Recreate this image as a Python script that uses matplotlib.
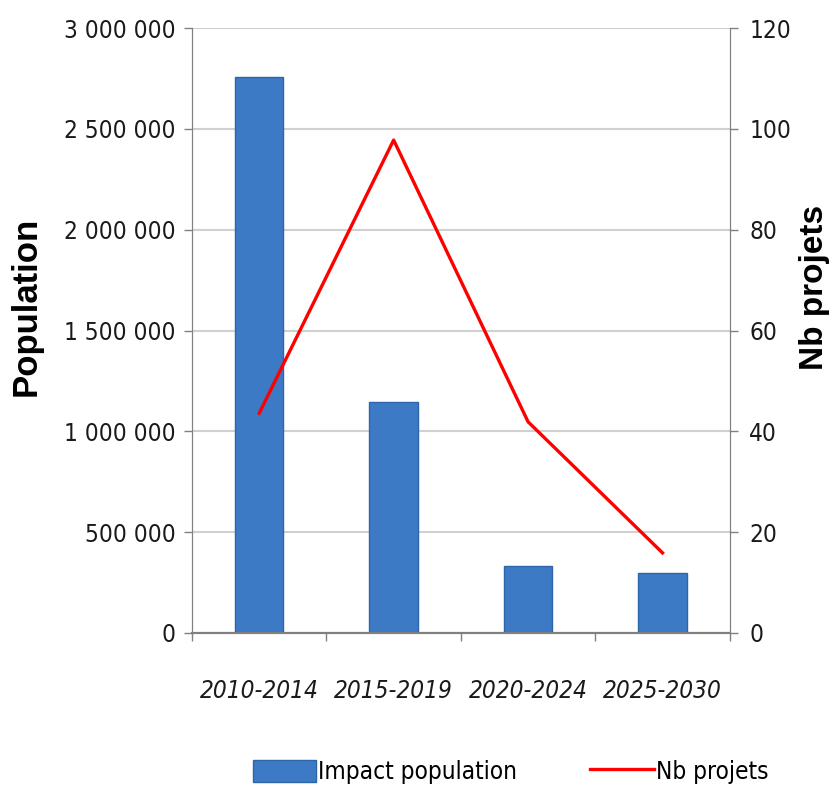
import matplotlib
matplotlib.use("Agg")
import matplotlib.pyplot as plt
from matplotlib import font_manager as fm
from matplotlib.ticker import FuncFormatter, MultipleLocator

categories = ["2010-2014", "2015-2019", "2020-2024", "2025-2030"]
population = [2757000, 1145000, 333000, 298000]
nb_projets = [43.6, 97.8, 41.9, 15.9]

# look for a condensed sans font
cond_reg, cond_it = None, None
for f in fm.fontManager.ttflist:
    n = f.name.lower()
    st = str(f.stretch).lower()
    is_cond = ("narrow" in n or "condensed" in n or st in ("condensed", "semi-condensed", "500", "600")
               or "condensed" in f.fname.lower() or "narrow" in f.fname.lower())
    if not is_cond or f.weight not in (400, "normal", "regular"):
        continue
    if f.style == "normal" and cond_reg is None:
        cond_reg = f.fname
    elif f.style in ("italic", "oblique") and cond_it is None:
        cond_it = f.fname

SZ = 17.5
if cond_reg:
    tick_fp = fm.FontProperties(fname=cond_reg, size=SZ)
    cat_fp = fm.FontProperties(fname=cond_it, size=SZ) if cond_it else fm.FontProperties(fname=cond_reg, size=SZ)
    leg_fp = fm.FontProperties(fname=cond_reg, size=SZ)
else:
    tick_fp = fm.FontProperties(family="Liberation Sans", size=18)
    cat_fp = fm.FontProperties(family="Liberation Sans", style="italic", size=18)
    leg_fp = fm.FontProperties(family="Liberation Sans", size=18)

fig = plt.figure(figsize=(8.33, 8.05), dpi=100)
ax = fig.add_axes([0.2305, 0.2137, 0.6455, 0.7513])
ax2 = ax.twinx()

x = list(range(len(categories)))
bars = ax.bar(x, population, width=0.36, color="#3C7AC6", edgecolor="#2E64A8",
              linewidth=1.0, zorder=3, label="Impact population")
line, = ax2.plot(x, nb_projets, color="#FF0000", lw=2.4, zorder=4, label="Nb projets")

ax.set_xlim(-0.5, len(categories) - 0.5)
ax.set_ylim(0, 3000000)
ax2.set_ylim(0, 120)
ax.yaxis.set_major_locator(MultipleLocator(500000))
ax2.yaxis.set_major_locator(MultipleLocator(20))

def fmt(v, pos):
    return "{:,}".format(int(v)).replace(",", " ")
ax.yaxis.set_major_formatter(FuncFormatter(fmt))

ax.grid(axis="y", color="#D0D0D0", lw=1.5, zorder=0)
ax.set_axisbelow(True)

ax.set_xticks([i - 0.5 for i in range(len(categories) + 1)], minor=False)
ax.set_xticklabels([""] * (len(categories) + 1))
ax.set_xticks(x, minor=True)
ax.set_xticklabels(categories, minor=True, fontproperties=cat_fp, color="#1a1a1a")
ax.tick_params(axis="x", which="minor", length=0, pad=33)
ax.tick_params(axis="x", which="major", length=6, color="#808080", width=1)

ax.tick_params(axis="y", length=6, color="#808080", width=1, pad=6)
ax2.tick_params(axis="y", length=6, color="#808080", width=1, pad=8)
for lab in ax.get_yticklabels() + ax2.get_yticklabels():
    lab.set_fontproperties(tick_fp); lab.set_color("#1a1a1a")

for a in (ax, ax2):
    a.spines["top"].set_visible(False)
    a.spines["left"].set_color("#808080")
    a.spines["right"].set_color("#808080")
    a.spines["bottom"].set_color("#808080")
    a.spines["bottom"].set_linewidth(1.5)

fig.text(0.031, 0.62, "Population", rotation=90, ha="center", va="center",
         fontfamily="Liberation Sans", fontweight="bold", fontsize=25)
fig.text(0.978, 0.643, "Nb projets", rotation=90, ha="center", va="center",
         fontfamily="Liberation Sans", fontweight="bold", fontsize=24)

leg = fig.legend([bars, line], ["Impact population", "Nb projets"], loc="center",
                 bbox_to_anchor=(0.613, 0.041), ncol=2, frameon=False,
                 prop=leg_fp, handlelength=2.6, handleheight=1.0,
                 handletextpad=0.1, columnspacing=3.0)

fig.savefig("out.png", dpi=100, facecolor="white")
